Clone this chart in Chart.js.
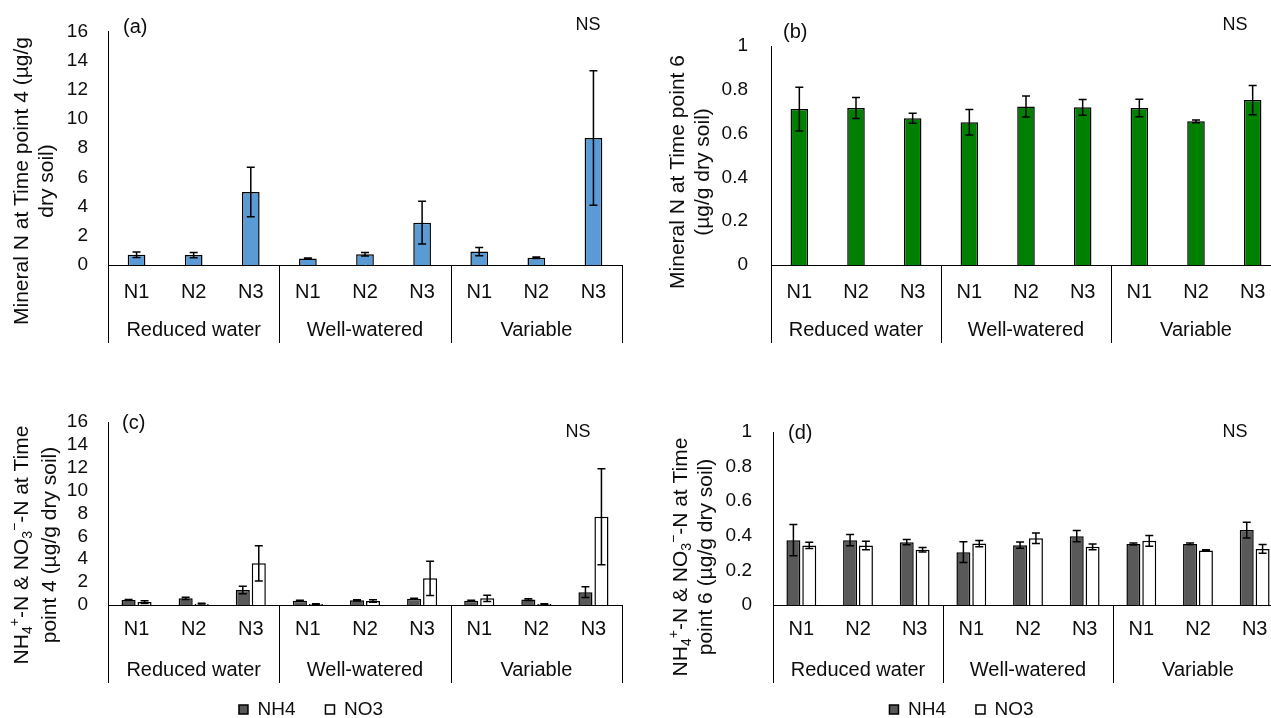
<!DOCTYPE html>
<html>
<head>
<meta charset="utf-8">
<script src="https://cdn.jsdelivr.net/npm/chart.js@4.4.0/dist/chart.umd.min.js"></script>
<style>
  html, body { margin: 0; padding: 0; background: #fff; overflow: hidden; width: 1271px; height: 718px; }
  canvas { position: absolute; }
</style>
</head>
<body>
<canvas id="chartA" width="640" height="360" style="left:0;top:0"></canvas>
<canvas id="chartB" width="660" height="360" style="left:640px;top:0"></canvas>
<canvas id="chartC" width="628" height="369" style="left:0;top:360px"></canvas>
<canvas id="chartD" width="674" height="369" style="left:640px;top:360px"></canvas>
<script>
// categories
var nLevels = ["N1", "N2", "N3", "N1", "N2", "N3", "N1", "N2", "N3"];
var groups = ["Reduced water", "Well-watered", "Variable"];

// (a) mineral N, time point 4
var mineralT4 = [0.70, 0.68, 5.0, 0.44, 0.73, 2.9, 0.92, 0.50, 8.7];
var mineralT4Err = [0.19, 0.18, 1.7, 0.04, 0.12, 1.47, 0.28, 0.05, 4.6];

// (b) mineral N, time point 6
var mineralT6 = [0.712, 0.717, 0.670, 0.652, 0.724, 0.720, 0.717, 0.656, 0.753];
var mineralT6Err = [0.10, 0.048, 0.023, 0.058, 0.048, 0.036, 0.040, 0.006, 0.067];

// (c) NH4 / NO3, time point 4
var nh4T4 = [0.44, 0.58, 1.31, 0.38, 0.41, 0.55, 0.38, 0.47, 1.12];
var nh4T4Err = [0.05, 0.10, 0.32, 0.03, 0.05, 0.05, 0.03, 0.08, 0.47];
var no3T4 = [0.26, 0.12, 3.64, 0.08, 0.35, 2.33, 0.58, 0.09, 7.71];
var no3T4Err = [0.12, 0.03, 1.55, 0.02, 0.10, 1.5, 0.27, 0.02, 4.2];

// (d) NH4 / NO3, time point 6
var nh4T6 = [0.375, 0.375, 0.363, 0.305, 0.346, 0.398, 0.353, 0.353, 0.433];
var nh4T6Err = [0.09, 0.032, 0.015, 0.06, 0.018, 0.033, 0.006, 0.005, 0.045];
var no3T6 = [0.344, 0.344, 0.320, 0.355, 0.386, 0.336, 0.371, 0.315, 0.324];
var no3T6Err = [0.018, 0.025, 0.013, 0.018, 0.03, 0.016, 0.031, 0.004, 0.025];

var FONT = '"Liberation Sans", Arial, sans-serif';
var INK = "#0d0d0d";

// error bars drawn from each dataset's "errors" array
const errorBars = {
  id: "errorBars",
  afterDatasetsDraw(chart) {
    const ctx = chart.ctx;
    const y = chart.scales.y;
    ctx.save();
    ctx.strokeStyle = "#000";
    ctx.lineWidth = 1.5;
    chart.data.datasets.forEach((ds, i) => {
      chart.getDatasetMeta(i).data.forEach((bar, j) => {
        const v = ds.data[j], e = ds.errors[j];
        const top = y.getPixelForValue(v + e);
        const bot = y.getPixelForValue(Math.max(v - e, 0));
        const cx = bar.x;
        ctx.beginPath();
        ctx.moveTo(cx, top); ctx.lineTo(cx, bot);
        ctx.moveTo(cx - 4, top); ctx.lineTo(cx + 4, top);
        ctx.moveTo(cx - 4, bot); ctx.lineTo(cx + 4, bot);
        ctx.stroke();
      });
    });
    ctx.restore();
  }
};

// draws one line of rich text (sub/sup segments) centred at 0,0
function richLine(ctx, segs) {
  const big = "21px " + FONT, small = "14px " + FONT;
  let total = 0;
  segs.forEach(s => { ctx.font = s[1] ? small : big; total += ctx.measureText(s[0]).width; });
  let x = -total / 2;
  segs.forEach(s => {
    ctx.font = s[1] ? small : big;
    let dy = 0;
    if (s[1] === "sub") dy = 6;
    if (s[1] === "sup") dy = -7;
    ctx.fillText(s[0], x, dy);
    x += ctx.measureText(s[0]).width;
  });
}

// group boxes under the axis, y title, panel letter and NS
const panelText = {
  id: "panelText",
  afterDraw(chart, args, o) {
    const ctx = chart.ctx;
    const area = chart.chartArea;
    const xs = chart.scales.x;
    ctx.save();
    ctx.strokeStyle = "#000";
    ctx.lineWidth = 1;
    const edges = [area.left];
    for (let g = 1; g < groups.length; g++) {
      edges.push((xs.getPixelForTick(g * 3 - 1) + xs.getPixelForTick(g * 3)) / 2);
    }
    edges.push(area.right);
    ctx.beginPath();
    edges.forEach(e => {
      const px = Math.round(e) + 0.5;
      ctx.moveTo(px, area.bottom);
      ctx.lineTo(px, area.bottom + 78);
    });
    ctx.stroke();

    ctx.fillStyle = INK;
    ctx.textBaseline = "middle";
    ctx.textAlign = "center";
    ctx.font = "20px " + FONT;
    groups.forEach((g, i) => ctx.fillText(g, (edges[i] + edges[i + 1]) / 2, area.bottom + 65));

    ctx.textAlign = "left";
    ctx.font = "20px " + FONT;
    ctx.fillText(o.letter[0], o.letter[1], o.letter[2]);
    ctx.textAlign = "center";
    ctx.font = "18px " + FONT;
    ctx.fillText("NS", o.ns[0], o.ns[1]);

    ctx.textAlign = "left";
    o.title.forEach(line => {
      ctx.save();
      ctx.translate(line.x, o.titleY);
      ctx.rotate(-Math.PI / 2);
      richLine(ctx, line.segs);
      ctx.restore();
    });
    ctx.restore();
  }
};

function makeChart(id, p) {
  return new Chart(document.getElementById(id), {
    type: "bar",
    data: { labels: nLevels, datasets: p.datasets },
    options: {
      responsive: false,
      animation: false,
      layout: { padding: p.padding },
      scales: {
        x: {
          grid: { display: false, drawTicks: false },
          border: { display: true, color: "#000", width: 1 },
          ticks: { color: INK, font: { family: FONT, size: 20 }, padding: p.xPad, autoSkip: false, maxRotation: 0 },
          afterFit: s => { s.height = p.xHeight; }
        },
        y: {
          min: 0,
          max: p.yMax,
          grid: { display: false, drawTicks: false },
          border: { display: true, color: "#000", width: 1 },
          ticks: {
            stepSize: p.step, autoSkip: false, color: INK,
            font: { family: FONT, size: 19 }, padding: p.yPad,
            callback: v => String(Math.round(v * 10) / 10)
          },
          afterFit: s => { s.width = p.yWidth; }
        }
      },
      plugins: {
        legend: p.legend ? {
          display: true,
          position: "bottom",
          labels: { boxWidth: 9, boxHeight: 9, padding: 30, color: INK, font: { family: FONT, size: 19 } }
        } : { display: false },
        tooltip: { enabled: false },
        panelText: p.text
      }
    },
    plugins: [errorBars, panelText]
  });
}

function single(data, err, color) {
  return [{
    label: "Mineral N",
    data: data, errors: err,
    backgroundColor: color, borderColor: "#000", borderWidth: 1.5,
    barPercentage: 0.31, categoryPercentage: 1
  }];
}

function pair(nh4, nh4Err, no3, no3Err) {
  return [
    { label: "NH4", data: nh4, errors: nh4Err, backgroundColor: "#595959", borderColor: "#000",
      borderWidth: 1.5, barPercentage: 0.88, categoryPercentage: 0.56 },
    { label: "NO3", data: no3, errors: no3Err, backgroundColor: "#ffffff", borderColor: "#000",
      borderWidth: 1.5, barPercentage: 0.88, categoryPercentage: 0.56 }
  ];
}

var titleC1 = [["NH"], ["4", "sub"], ["+", "sup"], ["-N & NO"], ["3", "sub"], ["\u2212", "sup"], ["-N at Time"]];

makeChart("chartA", {
  datasets: single(mineralT4, mineralT4Err, "#5B9BD5"),
  yMax: 16, step: 2, yWidth: 108, yPad: 20, xHeight: 95, xPad: 15,
  padding: { left: 0, right: 18, top: 27, bottom: 0 },
  legend: false,
  text: {
    letter: ["(a)", 123, 27], ns: [588, 25], titleY: 181,
    title: [{ x: 22, segs: [["Mineral N at Time point 4 (\u00b5g/g"]] }, { x: 47, segs: [["dry soil)"]] }]
  }
});

makeChart("chartB", {
  datasets: single(mineralT6, mineralT6Err, "#008000"),
  yMax: 1, step: 0.2, yWidth: 131, yPad: 23, xHeight: 95, xPad: 15,
  padding: { left: 0, right: 19, top: 46, bottom: 0 },
  legend: false,
  text: {
    letter: ["(b)", 143, 32], ns: [595, 25], titleY: 172,
    title: [{ x: 38, segs: [["Mineral N at Time point 6"]] }, { x: 63, segs: [["(\u00b5g/g dry soil)"]] }]
  }
});

makeChart("chartC", {
  datasets: pair(nh4T4, nh4T4Err, no3T4, no3T4Err),
  yMax: 16, step: 2, yWidth: 108, yPad: 20, xHeight: 65, xPad: 12,
  padding: { left: 0, right: 6, top: 62, bottom: 0 },
  legend: true,
  text: {
    letter: ["(c)", 122, 63], ns: [578, 72], titleY: 185,
    title: [{ x: 22, segs: titleC1 }, { x: 50, segs: [["point 4 (\u00b5g/g dry soil)"]] }]
  }
});

makeChart("chartD", {
  datasets: pair(nh4T6, nh4T6Err, no3T6, no3T6Err),
  yMax: 1, step: 0.2, yWidth: 133, yPad: 21, xHeight: 65, xPad: 12,
  padding: { left: 0, right: 31, top: 72, bottom: 0 },
  legend: true,
  text: {
    letter: ["(d)", 148, 73], ns: [595, 72], titleY: 197,
    title: [{ x: 41, segs: titleC1 }, { x: 66, segs: [["point 6 (\u00b5g/g dry soil)"]] }]
  }
});
</script>
</body>
</html>
